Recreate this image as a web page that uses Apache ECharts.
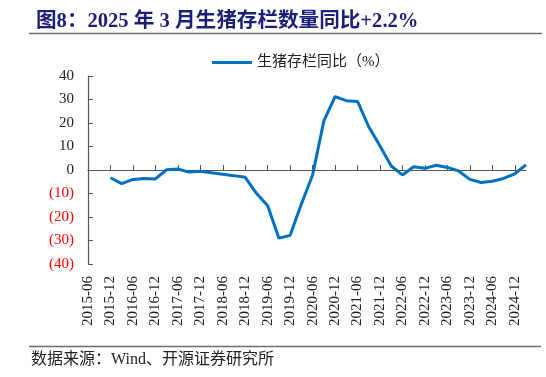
<!DOCTYPE html>
<html>
<head>
<meta charset="utf-8">
<script src="https://cdn.jsdelivr.net/npm/echarts@6/dist/echarts.min.js"></script>
<style>
  html, body { margin: 0; padding: 0; background: #fff; }
  #chart { width: 546px; height: 377px; }
</style>
</head>
<body>
<div id="chart"></div>
<script>
// quarterly categories, labels shown every 6 months
const quarters = [
  "2015-06", "2015-09", "2015-12",
  "2016-03", "2016-06", "2016-09", "2016-12",
  "2017-03", "2017-06", "2017-09", "2017-12",
  "2018-03", "2018-06", "2018-09", "2018-12",
  "2019-03", "2019-06", "2019-09", "2019-12",
  "2020-03", "2020-06", "2020-09", "2020-12",
  "2021-03", "2021-06", "2021-09", "2021-12",
  "2022-03", "2022-06", "2022-09", "2022-12",
  "2023-03", "2023-06", "2023-09", "2023-12",
  "2024-03", "2024-06", "2024-09", "2024-12",
  "2025-03"
];
// 生猪存栏同比（%）
const stockYoY = [
  null, null, -3.3,
  -5.8, -4.0, -3.6, -3.8,
  0.1, 0.4, -0.9, -0.5,
  -1.2, -1.8, -2.4, -3.1,
  -9.9, -15.2, -29.0, -27.8,
  -14.5, -2.1, 20.9, 31.2,
  29.5, 29.2, 18.4, 10.2,
  1.7, -2.1, 1.4, 0.7,
  2.0, 1.1, -0.4, -4.0,
  -5.3, -4.8, -3.6, -1.6,
  2.2
];
const seriesName = "生猪存栏同比（%）";

const serif = "'Liberation Serif', 'Times New Roman', 'Noto Sans CJK SC', serif";
const chart = echarts.init(document.getElementById("chart"));

chart.setOption({
  backgroundColor: "#fff",
  animation: false,
  title: {
    text: "图8：2025 年 3 月生猪存栏数量同比+2.2%",
    left: 31,
    top: 6,
    textStyle: {
      color: "#1c1f78",
      fontSize: 20.6,
      fontWeight: "bold",
      fontFamily: serif
    }
  },
  legend: {
    left: 207,
    top: 50,
    icon: "rect",
    itemWidth: 40,
    itemHeight: 3,
    itemGap: 6,
    textStyle: { fontSize: 15, color: "#222", fontFamily: serif }
  },
  graphic: [
    { type: "line", shape: { x1: 29, y1: 33.5, x2: 542, y2: 33.5 }, style: { stroke: "#6e6e6e", lineWidth: 1.5 } },
    { type: "line", shape: { x1: 29, y1: 346.5, x2: 541, y2: 346.5 }, style: { stroke: "#6e6e6e", lineWidth: 1.5 } },
    {
      type: "text", left: 31, top: 352,
      style: { text: "数据来源：Wind、开源证券研究所", fill: "#222", fontSize: 16, letterSpacing: 0.5, fontFamily: serif }
    }
  ],
  grid: { left: 88, right: 20, top: 76, bottom: 113 },
  xAxis: [
    {
      type: "category",
      data: quarters,
      boundaryGap: false,
      position: "bottom",
      axisLine: { show: false, onZero: false },
      axisTick: { show: false },
      axisLabel: {
        interval: 1,
        rotate: 90,
        margin: 12,
        fontSize: 15,
        color: "#222",
        fontFamily: serif
      }
    },
    {
      type: "category",
      data: quarters,
      boundaryGap: false,
      position: "bottom",
      axisLine: { show: true, onZero: true, lineStyle: { color: "#555", width: 1.2 } },
      axisTick: { show: true, inside: true, interval: 1, length: 5, lineStyle: { color: "#555" } },
      axisLabel: { show: false }
    }
  ],
  yAxis: {
    type: "value",
    min: -40,
    max: 40,
    interval: 10,
    splitLine: { show: false },
    axisLine: { show: true, lineStyle: { color: "#555", width: 1.2 } },
    axisTick: { show: true, inside: true, length: 5, lineStyle: { color: "#555" } },
    axisLabel: {
      margin: 14,
      fontSize: 15,
      fontFamily: serif,
      formatter: function (v) { return v < 0 ? "(" + (-v) + ")" : String(v); },
      color: function (v) { return Number(v) < 0 ? "#ff0000" : "#222"; }
    }
  },
  series: [
    {
      name: seriesName,
      type: "line",
      xAxisIndex: 0,
      data: stockYoY,
      showSymbol: false,
      symbol: "none",
      lineStyle: { color: "#0070c0", width: 3 },
      itemStyle: { color: "#0070c0" }
    }
  ]
});
</script>
</body>
</html>
